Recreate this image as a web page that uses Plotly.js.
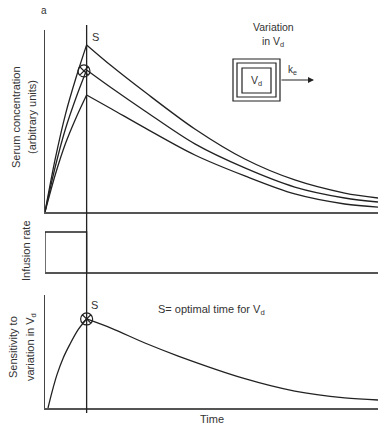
<!DOCTYPE html>
<html>
<head>
<meta charset="utf-8">
<script src="https://cdn.plot.ly/plotly-3.0.1.min.js"></script>
<style>html,body{margin:0;padding:0;background:#fff;}#chart{width:378px;height:425px;}</style>
</head>
<body>
<div id="chart"></div>
<script>
// ---- data ----
const riseTime = [0, 0.31, 0.62, 0.94, 1.25];
const decayTime = [1.25, 2, 3, 4.5, 6, 7.5, 9, 10];
const concHighRise = [0, 29.4, 54.1, 74.3, 91.8];
const concHighDecay = [91.8, 80.2, 65.9, 45.6, 29.1, 17.6, 10.4, 7.7];
const concMidRise = [0, 25.0, 46.0, 63.2, 78.0];
const concMidDecay = [78.0, 68.1, 55.5, 37.4, 24.2, 13.7, 7.7, 5.5];
const concLowRise = [0, 20.6, 37.9, 52.1, 64.3];
const concLowDecay = [64.3, 56.6, 46.2, 31.3, 19.8, 9.9, 4.4, 2.7];

const infTime = [0, 0, 1.25, 1.25];
const infRate = [0, 1, 1, 0];

const sensRiseTime = [0.09, 0.2, 0.36, 0.55, 0.75, 1.0, 1.25];
const sensRise = [0, 13, 29.5, 44.5, 56.5, 69.5, 78.8];
const sensDecayTime = [1.25, 2, 3, 4, 6, 7.5, 9, 10];
const sensDecay = [78.8, 70.5, 57.5, 46, 26, 15, 9, 7.1];

const optimalTime = [1.25];
const concMarkTime = [1.17];
const concMarkValue = [77.5];
const sensMarkTime = [1.25];
const sensMarkValue = [78.8];

// ---- helpers (pixel -> paper) ----
const W = 378, H = 425, L = 45;
const px = x => (x - L) / (W - L);
const py = y => 1 - y / H;

const FONT = 'Liberation Sans, Arial, sans-serif';
const TXT = '#333';
const lineStyle = {color: '#222', width: 1.3, shape: 'spline', smoothing: 0.9};

function curve(x, y, xa, ya) {
  return {x: x, y: y, xaxis: xa, yaxis: ya, type: 'scatter', mode: 'lines', line: lineStyle, hoverinfo: 'skip'};
}

const traces = [
  curve(riseTime, concHighRise, 'x', 'y'),
  curve(decayTime, concHighDecay, 'x', 'y'),
  curve(riseTime, concMidRise, 'x', 'y'),
  curve(decayTime, concMidDecay, 'x', 'y'),
  curve(riseTime, concLowRise, 'x', 'y'),
  curve(decayTime, concLowDecay, 'x', 'y'),
  {x: infTime, y: infRate, xaxis: 'x2', yaxis: 'y2', type: 'scatter', mode: 'lines',
   line: {color: '#222', width: 1.3}, hoverinfo: 'skip'},
  curve(sensRiseTime, sensRise, 'x3', 'y3'),
  curve(sensDecayTime, sensDecay, 'x3', 'y3'),
  {x: concMarkTime, y: concMarkValue, xaxis: 'x', yaxis: 'y', type: 'scatter', mode: 'markers',
   marker: {symbol: 'circle-x-open', size: 12, color: '#222', line: {width: 1.2, color: '#222'}}, cliponaxis: false},
  {x: sensMarkTime, y: sensMarkValue, xaxis: 'x3', yaxis: 'y3', type: 'scatter', mode: 'markers',
   marker: {symbol: 'circle-x-open', size: 12, color: '#222', line: {width: 1.2, color: '#222'}}, cliponaxis: false}
];

const xBase = {range: [0, 10], showline: true, linecolor: '#555', linewidth: 1.5, showticklabels: false,
  ticks: '', showgrid: false, zeroline: false, fixedrange: true};
const yBase = {showline: true, linecolor: '#444', linewidth: 1.5, showticklabels: false,
  ticks: '', showgrid: false, zeroline: false, fixedrange: true};

function ann(text, x, y, opts) {
  return Object.assign({text: text, xref: 'paper', yref: 'paper', x: px(x), y: py(y),
    showarrow: false, font: {family: FONT, size: 11, color: TXT}, xanchor: 'center', yanchor: 'middle'}, opts || {});
}

function rect(x0, y0, x1, y1) {
  return {type: 'rect', xref: 'paper', yref: 'paper', x0: px(x0), x1: px(x1), y0: py(y1), y1: py(y0),
    line: {color: '#222', width: 1.2}};
}

const layout = {
  width: W, height: H,
  margin: {l: L, r: 0, t: 0, b: 0},
  paper_bgcolor: '#fff', plot_bgcolor: 'rgba(0,0,0,0)',
  showlegend: false,
  xaxis: Object.assign({}, xBase, {domain: [0, 1], anchor: 'y'}),
  yaxis: Object.assign({}, yBase, {domain: [py(212), py(30)], range: [0, 100], anchor: 'x'}),
  xaxis2: Object.assign({}, xBase, {domain: [0, 1], anchor: 'y2', matches: 'x'}),
  yaxis2: Object.assign({}, yBase, {domain: [py(272), py(222)], range: [0, 1.25], anchor: 'x2', showline: false}),
  xaxis3: Object.assign({}, xBase, {domain: [0, 1], anchor: 'y3', matches: 'x'}),
  yaxis3: Object.assign({}, yBase, {domain: [py(408), py(295)], range: [0, 100], anchor: 'x3'}),
  shapes: [
    {type: 'line', xref: 'x', yref: 'paper', x0: optimalTime[0], x1: optimalTime[0], y0: py(413), y1: py(25),
     line: {color: '#222', width: 1.3}},
    rect(233, 59, 280, 101),
    rect(237, 63, 276, 97),
    rect(242, 68, 271, 93)
  ],
  annotations: [
    ann('a', 44, 11, {font: {family: FONT, size: 10, color: TXT}}),
    ann('S', 95, 37),
    ann('S', 94, 305),
    ann('Variation', 273, 27, {font: {family: FONT, size: 10.5, color: TXT}}),
    ann('in V<sub>d</sub>', 273, 42, {font: {family: FONT, size: 10.5, color: TXT}}),
    ann('V<sub>d</sub>', 256, 81, {font: {family: FONT, size: 10.5, color: TXT}}),
    ann('k<sub>e</sub>', 292, 70, {font: {family: FONT, size: 10, color: TXT}}),
    {text: '', xref: 'paper', yref: 'paper', x: px(314), y: py(80), ax: -34, ay: 0,
     showarrow: true, arrowhead: 2, arrowsize: 1, arrowwidth: 1.2, arrowcolor: '#222'},
    ann('S= optimal time for V<sub>d</sub>', 211, 310),
    ann('Time', 212, 419),
    ann('Serum concentration', 16, 117, {textangle: -90}),
    ann('(arbitrary units)', 32, 117, {textangle: -90}),
    ann('Infusion rate', 26, 251, {textangle: -90}),
    ann('Sensitivity to', 13, 347, {textangle: -90}),
    ann('variation in V<sub>d</sub>', 31, 347, {textangle: -90})
  ]
};

Plotly.newPlot('chart', traces, layout, {staticPlot: true, displayModeBar: false});
</script>
</body>
</html>
